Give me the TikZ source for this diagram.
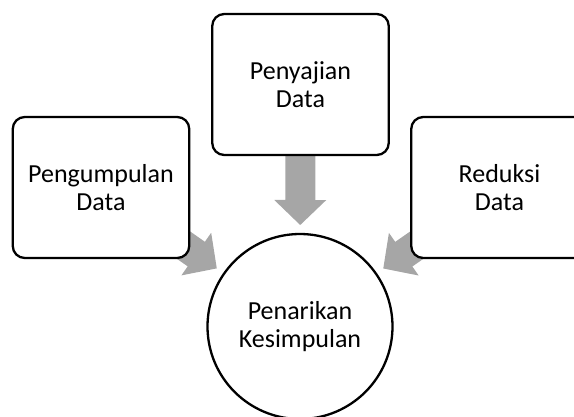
\documentclass[tikz,border=0pt]{standalone}
\usepackage{fontspec}
\setmainfont{Carlito}
\usetikzlibrary{calc}
\pgfdeclarelayer{background}
\pgfsetlayers{background,main}
\definecolor{arrowgray}{RGB}{166,166,166}
\tikzset{
  stagebox/.style={draw=black, line width=2.3pt, fill=white, rounded corners=12pt,
    minimum width=176.5pt, minimum height=141pt, align=center, inner sep=0pt,
    font=\fontsize{26}{28.5}\selectfont},
  goalcircle/.style={circle, draw=black, line width=2.3pt, fill=white,
    minimum size=185pt, align=center, inner sep=0pt,
    font=\fontsize{26}{28.5}\selectfont},
  arrowfill/.style={fill=arrowgray, draw=none}
}
\newcommand\flowarrow[2]{%
  \coordinate (fh) at ($(#2)!126.5pt!(#1)$);
  \coordinate (fe) at ($(#2)!171.5pt!(#1)$);
  \fill[arrowfill] ($(#2)!101.5pt!(#1)$) -- ($(fh)!26pt!90:(#2)$) -- ($(fh)!15pt!90:(#2)$)
    -- ($(fe)!15pt!90:(#2)$) -- ($(fe)!15pt!-90:(#2)$) -- ($(fh)!15pt!-90:(#2)$)
    -- ($(fh)!26pt!-90:(#2)$) -- cycle;
}
\begin{document}
\begin{tikzpicture}[x=1pt, y=-1pt]
  \useasboundingbox (0,0) rectangle (574,416);
  \clip (0,0) rectangle (574,416);
  \node[stagebox] (collect) at (101,187.5) {Pengumpulan\\Data};
  \node[stagebox] (present) at (300.5,84.5) {Penyajian\\Data};
  \node[stagebox] (reduce) at (499.5,187.5) {Reduksi\\Data};
  \node[goalcircle] (conclude) at (300,326.5) {Penarikan\\Kesimpulan};
  \begin{pgfonlayer}{background}
    \flowarrow{collect}{conclude}
    \flowarrow{present}{conclude}
    \flowarrow{reduce}{conclude}
  \end{pgfonlayer}
\end{tikzpicture}
\end{document}
